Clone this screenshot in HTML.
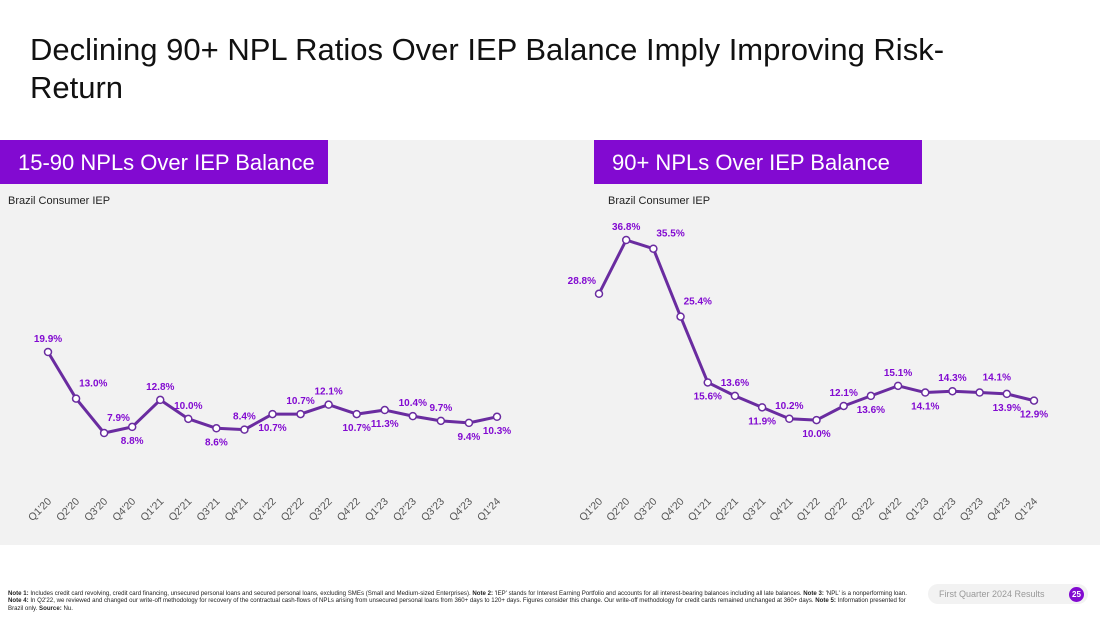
<!DOCTYPE html>
<html><head><meta charset="utf-8">
<style>
body{margin:0;width:1100px;height:619px;background:#fff;font-family:"Liberation Sans",sans-serif;overflow:hidden;position:relative}
.title{position:absolute;left:30px;top:31px;font-size:31px;line-height:38px;color:#111;font-weight:400}
.bg{position:absolute;left:0;top:140px;width:1100px;height:405px;background:#f2f2f2}
.hdr{position:absolute;top:140px;height:44px;background:#820ad1;color:#fff;font-size:22px;line-height:46px;padding-left:18px;box-sizing:border-box}
.sub{position:absolute;top:195px;font-size:11px;color:#222}
.notes{position:absolute;left:8px;top:590px;width:910px;font-size:6.1px;line-height:7.3px;color:#222}
.foot{position:absolute;left:928px;top:584px;width:160px;height:20px;background:#f2f2f2;border-radius:10px;font-size:9px;color:#999;line-height:20px;padding-left:11px;box-sizing:border-box}
.pg{position:absolute;left:1069px;top:587px;width:15px;height:15px;border-radius:50%;background:#820ad1;color:#fff;font-size:8px;text-align:center;line-height:15px;font-weight:bold}
</style></head><body>
<div class="title">Declining 90+ NPL Ratios Over IEP Balance Imply Improving Risk-<br>Return</div>
<div class="bg"></div>
<div class="hdr" style="left:0;width:328px">15-90 NPLs Over IEP Balance</div>
<div class="hdr" style="left:594px;width:328px">90+ NPLs Over IEP Balance</div>
<div class="sub" style="left:8px">Brazil Consumer IEP</div>
<div class="sub" style="left:608px">Brazil Consumer IEP</div>
<svg id="chart" width="1100" height="619" style="position:absolute;left:0;top:0"></svg>
<div class="notes"><b>Note 1:</b> Includes credit card revolving, credit card financing, unsecured personal loans and secured personal loans, excluding SMEs (Small and Medium-sized Enterprises). <b>Note 2:</b> 'IEP' stands for Interest Earning Portfolio and accounts for all interest-bearing balances including all late balances. <b>Note 3:</b> 'NPL' is a nonperforming loan. <b>Note 4:</b> In Q2'22, we reviewed and changed our write-off methodology for recovery of the contractual cash-flows of NPLs arising from unsecured personal loans from 360+ days to 120+ days. Figures consider this change. Our write-off methodology for credit cards remained unchanged at 360+ days. <b>Note 5:</b> Information presented for Brazil only. <b>Source:</b> Nu.</div>
<div class="foot">First Quarter 2024 Results</div>
<div class="pg">25</div>
<script>
const categories=["Q1'20","Q2'20","Q3'20","Q4'20","Q1'21","Q2'21","Q3'21","Q4'21","Q1'22","Q2'22","Q3'22","Q4'22","Q1'23","Q2'23","Q3'23","Q4'23","Q1'24"];
const npl1590=[19.9,13.0,7.9,8.8,12.8,10.0,8.6,8.4,10.7,10.7,12.1,10.7,11.3,10.4,9.7,9.4,10.3];
const npl90=[28.8,36.8,35.5,25.4,15.6,13.6,11.9,10.2,10.0,12.1,13.6,15.1,14.1,14.3,14.1,13.9,12.9];
const place1590=["a","r","r","b","a","a","b","a","b","a","a","b","b","a","a","b","b"];
const place90=["l","a","r","r","b","a","b","a","b","a","b","a","b","a","r","b","b"];
const svg=document.getElementById('chart');
const NS='http://www.w3.org/2000/svg';
function mk(t,a){const e=document.createElementNS(NS,t);for(const k in a)e.setAttribute(k,a[k]);svg.appendChild(e);return e;}
function draw(vals,place,x0,x1,yRef,vRef,k,prefix){
  const n=vals.length,step=(x1-x0)/(n-1);
  const xs=i=>x0+i*step, ys=v=>yRef-(v-vRef)*k;
  const line=mk('polyline',{points:vals.map((v,i)=>xs(i)+','+ys(v)).join(' '),fill:'none',stroke:'#6a2ca0','stroke-width':3,'stroke-linejoin':'round'});
  
  
  vals.forEach((v,i)=>{
    const x=xs(i),y=ys(v);
    const c=mk('circle',{cx:x,cy:y,r:3.5,fill:'#fff',stroke:'#6a2ca0','stroke-width':1.5});
    
    
    const p=place[i];let tx=x,ty=y-10,anc='middle';
    if(p==='b')ty=y+17;
    if(p==='l'){tx=x-3;ty=y-10;anc='end';}
    if(p==='r'){tx=x+3;ty=y-12;anc='start';}
    const t=mk('text',{x:tx,y:ty,'text-anchor':anc,'font-size':10,'font-weight':'bold',fill:'#820ad1','font-family':'Liberation Sans, sans-serif'});
    t.textContent=v.toFixed(1)+'%';
    
    
    const l=mk('text',{x:x+4,y:502,'text-anchor':'end','font-size':10.5,fill:'#555','font-family':'Liberation Sans, sans-serif',transform:'rotate(-45 '+(x+4)+' 502)'});
    l.textContent=categories[i];
    
    
  });
}
draw(npl1590,place1590,48,497,352,19.9,6.75,'npl-15-90');
draw(npl90,place90,599,1034,240,36.8,6.72,'npl-90');
</script>
</body></html>
